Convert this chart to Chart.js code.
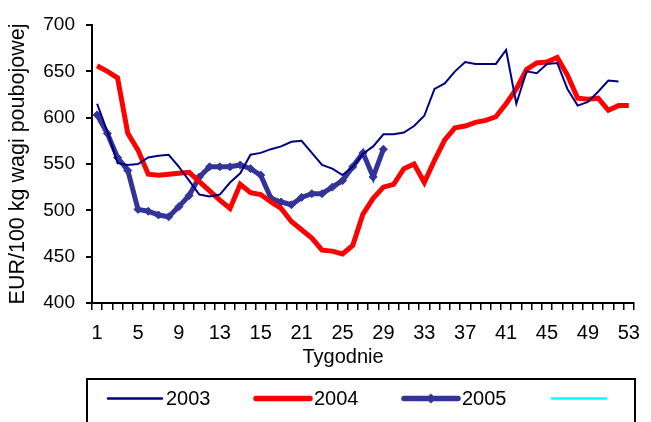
<!DOCTYPE html>
<html>
<head>
<meta charset="utf-8">
<title>Ceny tusz wieprzowych</title>
<script src="https://cdn.jsdelivr.net/npm/chart.js@4.4.0/dist/chart.umd.min.js"></script>
<style>
    html, body { margin: 0; padding: 0; background: #fff; }
    #wrap { width: 651px; height: 422px; }
</style>
</head>
<body>
<div id="wrap"><canvas id="priceChart" width="651" height="422"></canvas></div>
<script>
// Weeks of the year (categories)
const weeks = ['1', '2', '3', '4', '5', '6', '7', '8', '9', '10', '11', '12', '13', '14', '15', '16', '17', '18',
    '19', '20', '21', '22', '23', '24', '25', '26', '27', '28', '29', '30', '31', '32', '33', '34', '35', '36',
    '37', '38', '39', '40', '41', '42', '43', '44', '45', '46', '47', '48', '49', '50', '51', '52', '53'];

// Labels printed under every 4th week
const tickLabels = ['1', '5', '9', '13', '15', '21', '25', '29', '33', '37', '41', '45', '49', '53'];

// EUR/100 kg per week
const prices2003 = [615, 585, 551, 549, 550, 557, 559, 560, 547, 532, 517, 515, 517, 530, 540, 560, 562, 566,
    569, 574, 575, 562, 549, 545, 538, 547, 561, 569, 582, 582, 584, 591, 602, 631, 637, 650,
    660, 658, 658, 658, 673, 615, 650, 648, 658, 659, 631, 613, 617, 628, 640, 639];
const prices2004 = [656, 650, 643, 583, 565, 539, 538, 539, 540, 541, 531, 521, 511, 502, 528, 519, 517, 509,
    502, 488, 479, 470, 457, 456, 453, 462, 496, 513, 525, 528, 545, 550, 530, 554, 576, 589,
    591, 595, 597, 601, 615, 631, 652, 659, 660, 665, 646, 621, 620, 621, 608, 613, 613];
const prices2005 = [603, 583, 557, 543, 501, 499, 495, 493, 504, 516, 536, 547, 547, 547, 549, 545, 538, 513,
    509, 506, 514, 518, 518, 525, 532, 547, 562, 536, 566];

const yearNames = ['2003', '2004', '2005', ''];

const FONT = '"Liberation Sans", Arial, sans-serif';

// x axis caption plus the boxed legend along the bottom
const boxLegend = {
    id: 'boxLegend',
    afterDraw(chart) {
        const ctx = chart.ctx;
        ctx.save();

        ctx.fillStyle = '#000';
        ctx.font = '20px ' + FONT;
        ctx.textAlign = 'center';
        ctx.textBaseline = 'middle';
        ctx.fillText('Tygodnie', 343, 357);

        ctx.strokeStyle = '#000';
        ctx.lineWidth = 2;
        ctx.strokeRect(87, 379, 548, 60);

        ctx.textAlign = 'left';
        chart.data.datasets.forEach((ds, i) => {
            const x = 108 + i * 148;
            const y = 398.5;
            ctx.strokeStyle = ds.borderColor;
            ctx.lineWidth = ds.legendWidth;
            ctx.lineCap = 'round';
            ctx.beginPath();
            ctx.moveTo(x, y);
            ctx.lineTo(x + 54, y);
            ctx.stroke();
            if (ds.pointRadius > 0) {
                const r = ds.pointRadius + 1;
                ctx.fillStyle = ds.borderColor;
                ctx.beginPath();
                ctx.moveTo(x + 27, y - r);
                ctx.lineTo(x + 27 + r, y);
                ctx.lineTo(x + 27, y + r);
                ctx.lineTo(x + 27 - r, y);
                ctx.closePath();
                ctx.fill();
            }
            ctx.fillStyle = '#000';
            ctx.fillText(ds.label, x + 58, y + 1);
        });
        ctx.restore();
    }
};

function buildChart() {
    const ctx = document.getElementById('priceChart').getContext('2d');

    new Chart(ctx, {
        type: 'line',
        data: {
            labels: weeks,
            datasets: [
                {
                    label: yearNames[0],
                    data: prices2003,
                    borderColor: '#000080',
                    borderWidth: 2,
                    legendWidth: 2.5,
                    pointRadius: 0,
                    tension: 0
                },
                {
                    label: yearNames[1],
                    data: prices2004,
                    borderColor: '#ff0000',
                    borderWidth: 5,
                    legendWidth: 5.5,
                    pointRadius: 0,
                    tension: 0
                },
                {
                    label: yearNames[2],
                    data: prices2005,
                    borderColor: '#333399',
                    backgroundColor: '#333399',
                    borderWidth: 5,
                    legendWidth: 5.5,
                    pointStyle: 'rectRot',
                    pointRadius: 4,
                    pointBorderWidth: 1,
                    tension: 0
                },
                {
                    label: yearNames[3],
                    data: [],
                    borderColor: '#00ffff',
                    borderWidth: 2.5,
                    legendWidth: 2.5,
                    pointRadius: 0
                }
            ]
        },
        options: {
            responsive: false,
            animation: false,
            devicePixelRatio: 1,
            layout: { padding: { top: 25, right: 9, left: 0, bottom: 0 } },
            plugins: {
                legend: { display: false },
                tooltip: { enabled: false }
            },
            scales: {
                x: {
                    offset: true,
                    afterFit: s => { s.height = 119; },
                    border: { color: '#000', width: 2 },
                    grid: {
                        offset: true,
                        drawOnChartArea: false,
                        color: '#000',
                        lineWidth: 1.5,
                        tickLength: 7
                    },
                    ticks: {
                        autoSkip: false,
                        maxRotation: 0,
                        padding: 11,
                        color: '#000',
                        font: { family: FONT, size: 20 },
                        callback: (v, i) => (i % 4 === 0 ? tickLabels[i / 4] : '')
                    }
                },
                y: {
                    min: 400,
                    max: 700,
                    afterFit: s => { s.width = 92; },
                    border: { color: '#000', width: 2 },
                    grid: {
                        drawOnChartArea: false,
                        color: '#000',
                        lineWidth: 2,
                        tickLength: 6
                    },
                    ticks: {
                        stepSize: 50,
                        padding: 11,
                        color: '#000',
                        font: { family: FONT, size: 19 }
                    },
                    title: {
                        display: true,
                        text: 'EUR/100 kg wagi poubojowej',
                        color: '#000',
                        font: { family: FONT, size: 21.5 },
                        padding: { top: 5, bottom: 0 }
                    }
                }
            }
        },
        plugins: [boxLegend]
    });
}

buildChart();
</script>
</body>
</html>
